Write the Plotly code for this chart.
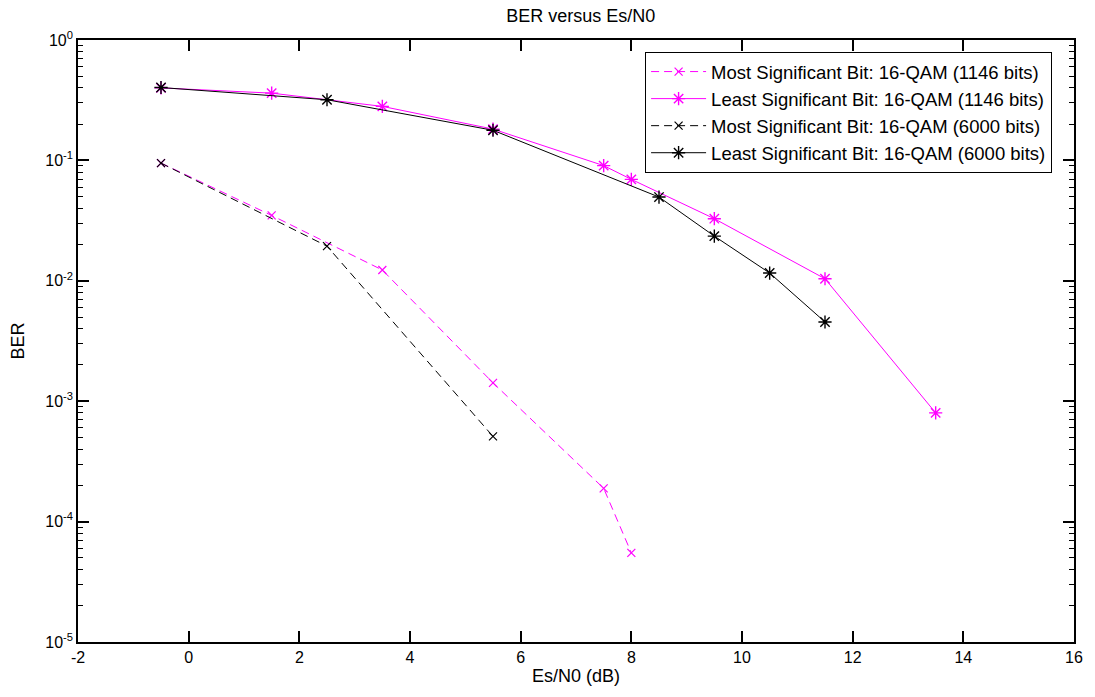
import plotly.graph_objects as go

# ---- data ----
x_msb_1146 = [-0.5, 1.5, 3.5, 5.5, 7.5, 8.0]
ber_msb_1146 = [0.095, 0.0349, 0.0123, 0.00142, 0.000189, 0.000055]

x_lsb_1146 = [-0.5, 1.5, 3.5, 5.5, 7.5, 8.0, 9.5, 11.5, 13.5]
ber_lsb_1146 = [0.400, 0.362, 0.281, 0.182, 0.0905, 0.0696, 0.0328, 0.0104, 0.00080]

x_msb_6000 = [-0.5, 2.5, 5.5]
ber_msb_6000 = [0.095, 0.0194, 0.00051]

x_lsb_6000 = [-0.5, 2.5, 5.5, 8.5, 9.5, 10.5, 11.5]
ber_lsb_6000 = [0.403, 0.319, 0.178, 0.0496, 0.0235, 0.0116, 0.00455]

names = [
    "Most Significant Bit: 16-QAM (1146 bits)",
    "Least Significant Bit: 16-QAM (1146 bits)",
    "Most Significant Bit: 16-QAM (6000 bits)",
    "Least Significant Bit: 16-QAM (6000 bits)",
]

x_tick_vals = [-2, 0, 2, 4, 6, 8, 10, 12, 14, 16]
x_tick_text = ["-2", "0", "2", "4", "6", "8", "10", "12", "14", "16"]
y_tick_vals = [1, 1e-1, 1e-2, 1e-3, 1e-4, 1e-5]
y_tick_text = ["10<sup>0</sup>", "10<sup>-1</sup>", "10<sup>-2</sup>",
               "10<sup>-3</sup>", "10<sup>-4</sup>", "10<sup>-5</sup>"]
y_minor_vals = [m * 10.0 ** e for e in range(-5, 0) for m in range(2, 10)]

MAG = "#ff00ff"
BLK = "#000000"
FONT = "Liberation Sans, Arial, sans-serif"

fig = go.Figure()
fig.add_trace(go.Scatter(
    x=x_msb_1146, y=ber_msb_1146, name=names[0], mode="lines+markers",
    legendgroup="a",
    line=dict(color=MAG, width=1, dash="8px,5px"),
    marker=dict(symbol="x-thin-open", size=8, line=dict(color=MAG, width=1.2)),
))
fig.add_trace(go.Scatter(
    x=x_lsb_1146, y=ber_lsb_1146, name=names[1], mode="lines+markers",
    legendgroup="b",
    line=dict(color=MAG, width=1),
    marker=dict(symbol="asterisk-open", size=11, line=dict(color=MAG, width=1.4)),
))
fig.add_trace(go.Scatter(
    x=x_msb_6000, y=ber_msb_6000, name=names[2], mode="lines+markers",
    legendgroup="c",
    line=dict(color=BLK, width=1, dash="8px,5px"),
    marker=dict(symbol="x-thin-open", size=8, line=dict(color=BLK, width=1.2)),
))
fig.add_trace(go.Scatter(
    x=x_lsb_6000, y=ber_lsb_6000, name=names[3], mode="lines+markers",
    legendgroup="d",
    line=dict(color=BLK, width=1),
    marker=dict(symbol="asterisk-open", size=11, line=dict(color=BLK, width=1.4)),
))

fig.update_layout(
    width=1095, height=697,
    margin=dict(l=78, r=12, t=40, b=55),
    paper_bgcolor="white", plot_bgcolor="white",
    font=dict(family=FONT, size=16, color="black"),
    title=dict(text="BER versus Es/N0", x=0.5303, xanchor="center",
               y=0.977, yanchor="middle", font=dict(size=18)),
    showlegend=True,
    legend=dict(
        x=0.978, xanchor="right", y=0.98, yanchor="top",
        bgcolor="white", bordercolor="black", borderwidth=1,
        font=dict(size=18.5), tracegroupgap=0, itemwidth=55,
    ),
    xaxis=dict(
        range=[-2, 16], tickvals=x_tick_vals, ticktext=x_tick_text,
        ticks="inside", ticklen=11, tickwidth=1.6,
        tickcolor="black", showline=True, linecolor="black", linewidth=1.6,
        mirror="ticks", showgrid=False, zeroline=False,
        title=dict(text="Es/N0 (dB)", standoff=4, font=dict(size=18)),
    ),
    yaxis=dict(
        type="log", range=[-5, 0], tickvals=y_tick_vals, ticktext=y_tick_text,
        ticks="inside", ticklen=11, tickwidth=1.6, tickcolor="black",
        showline=True, linecolor="black", linewidth=1.6, mirror="ticks",
        showgrid=False, zeroline=False,
        minor=dict(ticks="inside", ticklen=5, tickwidth=1.2, tickcolor="black",
                   tickvals=y_minor_vals, showgrid=False),
        title=dict(text="BER", standoff=16, font=dict(size=18)),
    ),
)

fig.write_html("out.html",
               config={"displayModeBar": False},
               post_script="document.body.style.margin='0px';")
